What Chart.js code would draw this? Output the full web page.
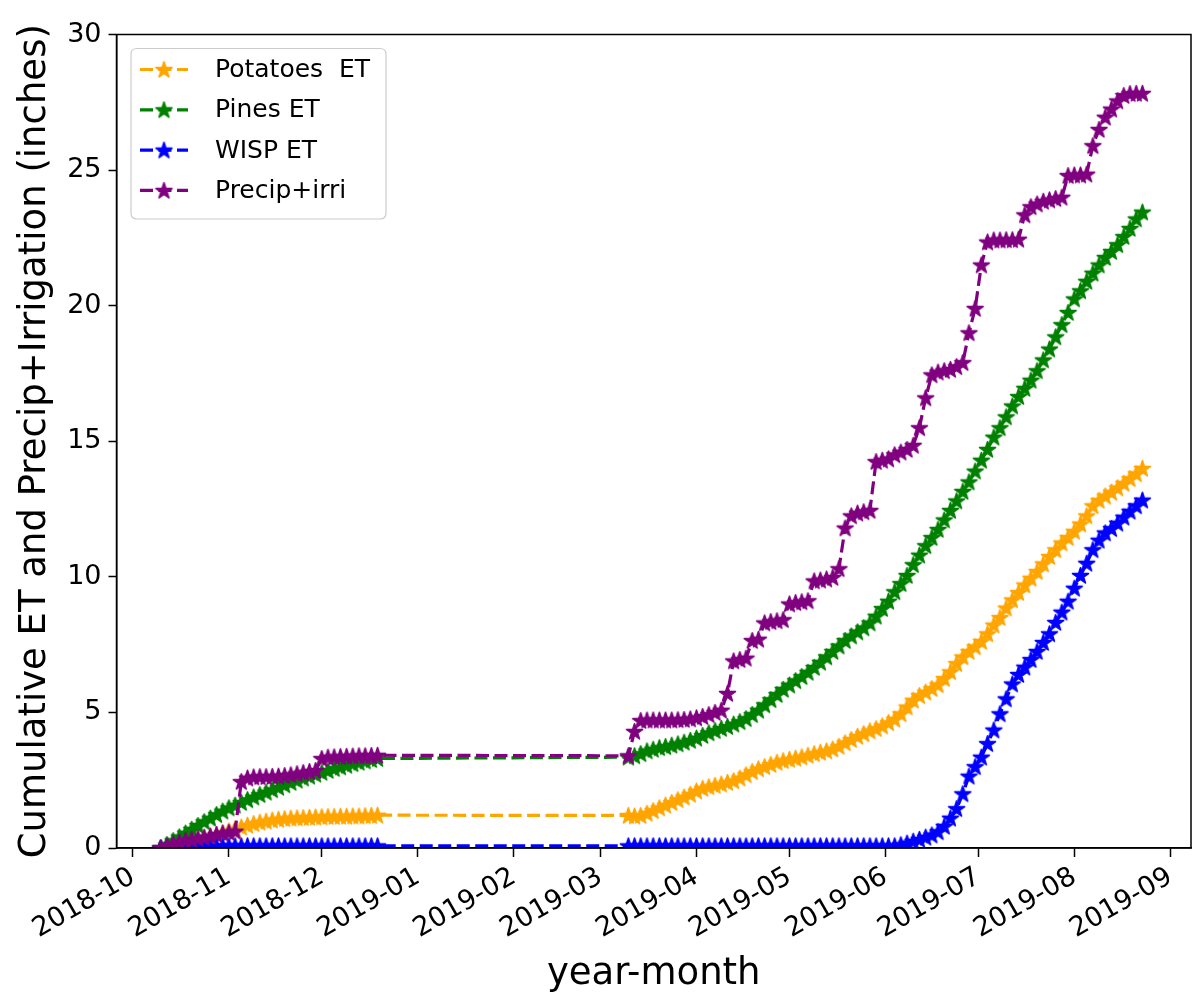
<!DOCTYPE html>
<html>
<head>
<meta charset="utf-8">
<script src="https://cdn.jsdelivr.net/npm/chart.js@4.4.1/dist/chart.umd.min.js"></script>
<style>
html,body{margin:0;padding:0;background:#ffffff;}
#wrap{width:1199px;height:1001px;}
</style>
</head>
<body>
<div id="wrap"><canvas id="c" width="1199" height="1001"></canvas></div>
<script>
// ---------------- DATA ----------------
const seriesLabels = ['Potatoes  ET', 'Pines ET', 'WISP ET', 'Precip+irri'];
const tickLabels = ['2018-10','2018-11','2018-12','2019-01','2019-02','2019-03','2019-04','2019-05','2019-06','2019-07','2019-08','2019-09'];
const seg1Start = '2018-10-10';   // first sampled day of the autumn record
const seg2Start = '2019-03-10';   // first sampled day of the spring/summer record
const stepDays = 2;               // readings taken every other day

const potatoesSeg1 = [0.00,0.05,0.10,0.15,0.20,0.26,0.32,0.38,0.44,0.50,
  0.56,0.63,0.70,0.77,0.84,0.90,0.95,0.99,1.03,1.06,
  1.08,1.10,1.11,1.12,1.13,1.14,1.15,1.16,1.16,1.17,
  1.17,1.18,1.18,1.19,1.20,1.21];
const potatoesSeg2 = [1.20,1.18,1.20,1.28,1.38,1.48,1.58,1.68,1.78,1.88,
  1.98,2.10,2.20,2.26,2.31,2.36,2.42,2.48,2.58,2.70,
  2.82,2.92,3.00,3.08,3.16,3.22,3.27,3.31,3.36,3.42,
  3.48,3.53,3.58,3.65,3.75,3.88,4.00,4.12,4.22,4.32,
  4.40,4.50,4.62,4.75,4.95,5.20,5.45,5.62,5.75,5.88,
  6.02,6.25,6.50,6.80,7.05,7.25,7.42,7.62,7.90,8.22,
  8.50,8.85,9.15,9.42,9.70,9.95,10.20,10.48,10.75,11.00,
  11.25,11.45,11.68,11.95,12.25,12.62,12.82,12.98,13.12,13.28,
  13.45,13.62,13.80,14.00];

const pinesSeg1 = [0.00,0.13,0.27,0.41,0.55,0.69,0.83,0.97,1.10,1.23,
  1.36,1.48,1.58,1.68,1.78,1.88,1.97,2.06,2.15,2.24,
  2.33,2.42,2.50,2.58,2.65,2.72,2.79,2.86,2.93,2.99,
  3.05,3.11,3.16,3.21,3.26,3.30];
const pinesSeg2 = [3.35,3.40,3.48,3.58,3.64,3.70,3.74,3.79,3.84,3.90,
  3.97,4.05,4.15,4.25,4.33,4.41,4.48,4.57,4.66,4.77,
  4.92,5.08,5.28,5.47,5.66,5.85,6.01,6.17,6.32,6.48,
  6.66,6.85,7.05,7.25,7.45,7.65,7.82,7.97,8.12,8.30,
  8.55,8.83,9.10,9.45,9.75,10.05,10.45,10.80,11.15,11.45,
  11.75,12.10,12.45,12.80,13.15,13.50,13.90,14.30,14.70,15.15,
  15.50,15.90,16.30,16.65,16.95,17.25,17.60,18.00,18.40,18.85,
  19.30,19.75,20.25,20.55,20.90,21.20,21.50,21.78,22.00,22.25,
  22.55,22.85,23.20,23.45];

const wispSeg1 = [0.00,0.00,0.00,0.00,0.00,0.01,0.02,0.04,0.06,0.07,
  0.08,0.08,0.08,0.08,0.08,0.08,0.08,0.08,0.08,0.08,
  0.08,0.08,0.08,0.08,0.08,0.08,0.08,0.08,0.08,0.08,
  0.08,0.08,0.08,0.08,0.08,0.08];
const wispSeg2 = [0.08,0.08,0.08,0.08,0.08,0.08,0.08,0.08,0.08,0.08,
  0.08,0.08,0.08,0.08,0.08,0.08,0.08,0.08,0.08,0.08,
  0.08,0.08,0.08,0.08,0.08,0.08,0.08,0.08,0.08,0.08,
  0.08,0.08,0.08,0.08,0.08,0.08,0.08,0.08,0.08,0.08,
  0.08,0.08,0.08,0.08,0.12,0.18,0.25,0.32,0.40,0.48,
  0.60,0.80,1.10,1.45,2.00,2.65,3.00,3.35,3.85,4.35,
  4.95,5.50,6.05,6.40,6.67,6.95,7.25,7.58,7.90,8.32,
  8.70,9.10,9.58,10.05,10.50,11.00,11.35,11.62,11.78,11.98,
  12.20,12.42,12.62,12.83];

const precipSeg1 = [0.00,0.08,0.16,0.22,0.28,0.32,0.36,0.40,0.44,0.50,
  0.55,0.58,0.62,2.45,2.58,2.62,2.63,2.63,2.64,2.65,
  2.67,2.70,2.74,2.78,2.82,2.86,3.30,3.35,3.36,3.37,
  3.38,3.39,3.40,3.40,3.41,3.42];
const precipSeg2 = [3.40,4.30,4.70,4.72,4.72,4.72,4.72,4.72,4.73,4.74,
  4.76,4.80,4.85,4.92,5.00,5.08,5.70,6.90,6.95,7.00,
  7.65,7.70,8.30,8.35,8.38,8.42,9.00,9.05,9.08,9.12,
  9.85,9.88,9.92,9.98,10.30,11.80,12.25,12.35,12.40,12.45,
  14.25,14.30,14.35,14.50,14.60,14.70,14.85,15.50,16.60,17.45,
  17.55,17.60,17.65,17.75,17.90,19.00,19.90,21.50,22.35,22.42,
  22.42,22.43,22.43,22.45,23.35,23.65,23.75,23.85,23.90,23.95,
  24.00,24.80,24.82,24.82,24.85,25.90,26.50,26.95,27.25,27.55,
  27.75,27.82,27.83,27.83];

const seriesColors = ['#FFA500', '#008000', '#0000FF', '#800080'];

// ---------------- HELPERS ----------------
const EPOCH = Date.UTC(2018, 9, 1);
function dayOf(s) {
  const p = s.split('-').map(Number);
  return (Date.UTC(p[0], p[1] - 1, p[2] || 1) - EPOCH) / 86400000;
}
function toPoints(start, vals) {
  const d0 = dayOf(start);
  return vals.map((v, i) => ({x: d0 + i * stepDays, y: v}));
}
function joinSegs(a, b) {
  return toPoints(seg1Start, a).concat(toPoints(seg2Start, b));
}
const tickValues = tickLabels.map(t => dayOf(t + '-01'));

function makeStar(color, R) {
  const s = Math.ceil(2 * R + 4);
  const c = document.createElement('canvas');
  c.width = s; c.height = s;
  const g = c.getContext('2d');
  g.translate(s / 2, s / 2 + 0.6);
  g.beginPath();
  for (let i = 0; i < 10; i++) {
    const r = (i % 2 === 0) ? R : R * 0.381966;
    const a = -Math.PI / 2 + i * Math.PI / 5;
    if (i === 0) g.moveTo(r * Math.cos(a), r * Math.sin(a));
    else g.lineTo(r * Math.cos(a), r * Math.sin(a));
  }
  g.closePath();
  g.fillStyle = color;
  g.fill();
  g.lineWidth = 1.6;
  g.strokeStyle = color;
  g.lineJoin = 'round';
  g.stroke();
  return c;
}
const STAR_R = 8.4;
const stars = seriesColors.map(c => makeStar(c, STAR_R));
const DASH = [13, 5.5];
const LW = 3.2;
const FONT = "'DejaVu Sans', 'Liberation Sans', sans-serif";

const seriesData = [
  joinSegs(potatoesSeg1, potatoesSeg2),
  joinSegs(pinesSeg1, pinesSeg2),
  joinSegs(wispSeg1, wispSeg2),
  joinSegs(precipSeg1, precipSeg2)
];

const datasets = seriesLabels.map((lab, i) => ({
  label: lab,
  data: seriesData[i],
  borderColor: seriesColors[i],
  backgroundColor: seriesColors[i],
  borderWidth: LW,
  borderDash: DASH,
  pointStyle: stars[i],
  pointRadius: 8,
  pointHoverRadius: 8,
  pointBorderWidth: 0,
  tension: 0,
  fill: false,
  order: 3 - i
}));

// frame (all four spines)
const framePlugin = {
  id: 'frame',
  afterDatasetsDraw(chart) {
    const {ctx, chartArea: a} = chart;
    ctx.save();
    ctx.strokeStyle = '#000';
    ctx.lineWidth = 1.5;
    ctx.strokeRect(a.left, a.top, a.right - a.left, a.bottom - a.top);
    ctx.restore();
  }
};

// matplotlib-like legend
const legendPlugin = {
  id: 'mplLegend',
  afterDraw(chart) {
    const ctx = chart.ctx;
    const bx = 131, by = 48.5, bw = 255, bh = 170.5, rr = 6;
    ctx.save();
    ctx.beginPath();
    ctx.moveTo(bx + rr, by);
    ctx.lineTo(bx + bw - rr, by);
    ctx.quadraticCurveTo(bx + bw, by, bx + bw, by + rr);
    ctx.lineTo(bx + bw, by + bh - rr);
    ctx.quadraticCurveTo(bx + bw, by + bh, bx + bw - rr, by + bh);
    ctx.lineTo(bx + rr, by + bh);
    ctx.quadraticCurveTo(bx, by + bh, bx, by + bh - rr);
    ctx.lineTo(bx, by + rr);
    ctx.quadraticCurveTo(bx, by, bx + rr, by);
    ctx.closePath();
    ctx.fillStyle = 'rgba(255,255,255,0.8)';
    ctx.fill();
    ctx.strokeStyle = '#cccccc';
    ctx.lineWidth = 1.2;
    ctx.stroke();

    chart.data.datasets.forEach((ds, i) => {
      const y = 69.5 + i * 40.3;
      ctx.beginPath();
      ctx.setLineDash(DASH);
      ctx.lineWidth = LW;
      ctx.strokeStyle = ds.borderColor;
      ctx.moveTo(140, y);
      ctx.lineTo(188, y);
      ctx.stroke();
      ctx.setLineDash([]);
      const img = ds.pointStyle;
      ctx.drawImage(img, 164 - img.width / 2, y - img.height / 2);
      ctx.fillStyle = '#000';
      ctx.font = '25px ' + FONT;
      ctx.textAlign = 'left';
      ctx.textBaseline = 'middle';
      ctx.fillText(ds.label, 215, y + 1);
    });
    ctx.restore();
  }
};

const ctx = document.getElementById('c').getContext('2d');
new Chart(ctx, {
  type: 'line',
  data: {datasets},
  options: {
    responsive: false,
    animation: false,
    devicePixelRatio: 1,
    layout: {padding: {top: 34.5, right: 2.5, left: 0, bottom: 0}},
    plugins: {legend: {display: false}, tooltip: {enabled: false}},
    events: [],
    scales: {
      x: {
        type: 'linear',
        min: -5.3,
        max: 341.7,
        afterBuildTicks: s => { s.ticks = tickValues.map(v => ({value: v})); },
        afterFit: s => { s.height = 153; },
        ticks: {
          autoSkip: false,
          minRotation: 30,
          maxRotation: 30,
          padding: 4,
          color: '#000',
          font: {family: FONT, size: 27},
          callback: (v, i) => tickLabels[i]
        },
        grid: {drawOnChartArea: false, drawTicks: true, tickLength: 9, tickWidth: 1.5, color: '#000'},
        border: {display: true, color: '#000', width: 1.5},
        title: {
          display: true,
          text: 'year-month',
          color: '#000',
          font: {family: FONT, size: 37, lineHeight: 1},
          padding: {top: 0, bottom: 8}
        }
      },
      y: {
        min: 0,
        max: 30,
        afterFit: s => { s.width = 116.5; },
        ticks: {
          stepSize: 5,
          padding: 7,
          color: '#000',
          font: {family: FONT, size: 27}
        },
        grid: {drawOnChartArea: false, drawTicks: true, tickLength: 8, tickWidth: 1.5, color: '#000'},
        border: {display: true, color: '#000', width: 1.5},
        title: {
          display: true,
          text: 'Cumulative ET and Precip+Irrigation (inches)',
          color: '#000',
          font: {family: FONT, size: 37, lineHeight: 1},
          padding: {top: 17, bottom: 0}
        }
      }
    }
  },
  plugins: [framePlugin, legendPlugin]
});
</script>
</body>
</html>
